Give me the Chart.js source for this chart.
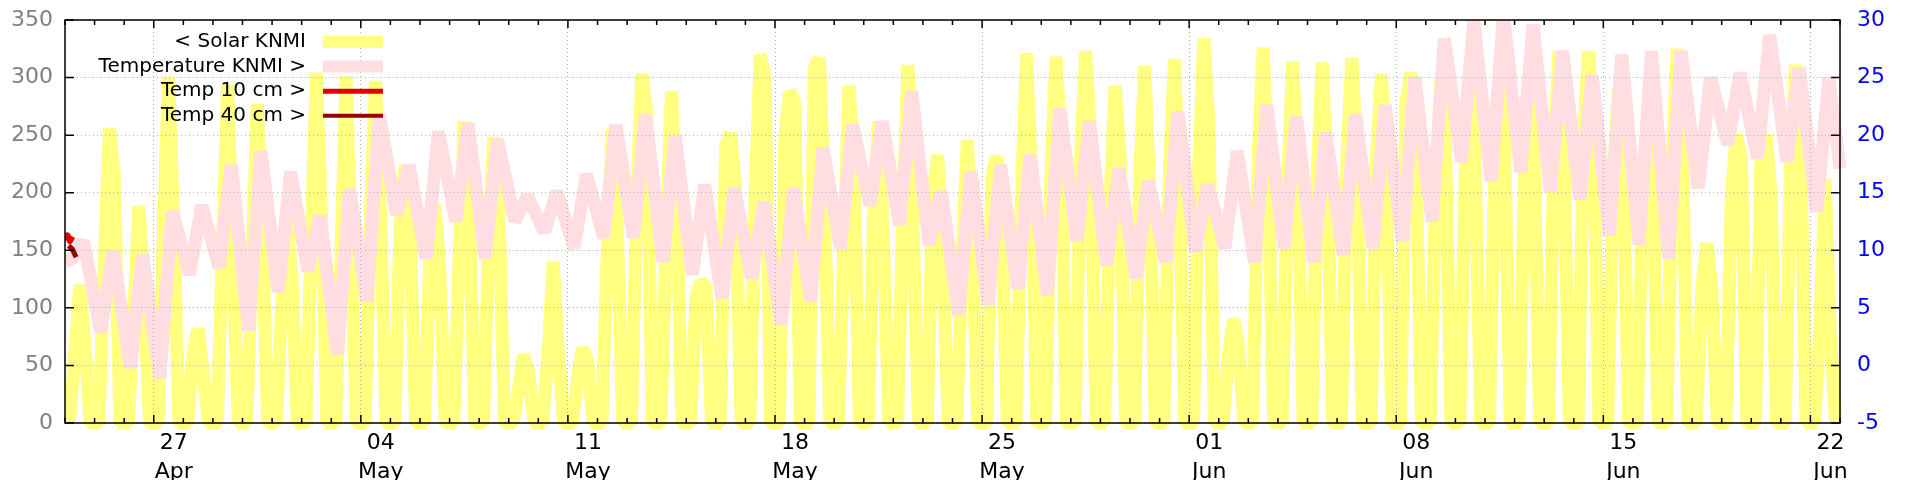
<!DOCTYPE html>
<html>
<head>
<meta charset="utf-8">
<script src="https://cdn.jsdelivr.net/npm/chart.js@4.4.1/dist/chart.umd.min.js"></script>
<style>
  html, body { margin: 0; padding: 0; background: #fff; }
  canvas { display: block; }
</style>
</head>
<body>
<canvas id="chart" width="1920" height="480"></canvas>
<script>
// x = days since 24 Apr 00:00
const dayCount = 60;

// weekly tick labels
const weekDays = [3, 10, 17, 24, 31, 38, 45, 52, 59];
const weekDayLabels = ['27', '04', '11', '18', '25', '01', '08', '15', '22'];
const weekMonths = ['Apr', 'May', 'May', 'May', 'May', 'Jun', 'Jun', 'Jun', 'Jun'];

// solar KNMI (W/m2), one value per day at each hour below; night is 0
const solarHours = [3.5, 8, 12, 16, 20.5];
const solarNight = 0;
const solar8h = [
  60, 140, 100, 170, 62, 160, 150, 110, 170, 150,
  190, 178, 140, 150, 170, 30, 60, 40, 150, 200,
  170, 110, 240, 200, 250, 308, 160, 180, 200, 200,
  150, 215, 200, 220, 230, 200, 220, 220, 230, 60,
  230, 210, 220, 230, 230, 280, 200, 220, 230, 210,
  240, 250, 210, 200, 230, 120, 200, 240, 230, 90,
];
const solar12h = [
  120, 256, 188, 300, 82, 294, 277, 180, 304, 301,
  297, 224, 190, 262, 248, 59, 140, 65, 255, 303,
  288, 123, 252, 320, 288, 317, 293, 262, 311, 233,
  246, 232, 321, 318, 323, 293, 310, 316, 334, 90,
  326, 314, 313, 317, 303, 304, 300, 305, 310, 300,
  323, 323, 290, 270, 325, 156, 250, 250, 311, 212,
];
const solar16h = [
  70, 215, 120, 180, 45, 150, 170, 130, 180, 160,
  180, 170, 135, 180, 187, 45, 67, 55, 170, 270,
  200, 118, 200, 300, 279, 200, 230, 160, 170, 150,
  160, 170, 220, 240, 250, 230, 200, 210, 260, 70,
  220, 220, 210, 230, 210, 230, 240, 230, 240, 220,
  230, 260, 240, 220, 250, 117, 230, 200, 240, 80,
];

// temperature KNMI (C): daily low around 05:00, daily high around 15:00
const tempStart = 9.0;
const tempEnd = 17.1;
const tempMin = [
  9.2, 2.9, -0.2, -1.1, 7.9, 8.5, 3.0, 6.4, 8.2, 1.0,
  5.6, 13.1, 9.3, 12.5, 9.3, 12.5, 11.6, 10.2, 11.1, 11.1,
  9.0, 7.9, 5.8, 7.6, 3.5, 5.6, 10.2, 13.9, 12.2, 10.5,
  4.4, 5.3, 6.7, 6.1, 10.8, 8.7, 7.6, 9.0, 9.9, 10.2,
  9.0, 10.2, 9.0, 9.6, 10.2, 10.8, 12.5, 17.7, 16.0, 16.8,
  15.1, 14.4, 11.3, 10.5, 9.3, 15.4, 19.2, 18.0, 17.7, 13.4,
];
const tempMax = [
  10.8, 9.9, 9.6, 13.4, 13.9, 17.4, 18.6, 16.8, 13.0, 15.3,
  21.8, 17.4, 20.3, 21.0, 19.6, 14.7, 15.1, 16.6, 20.9, 21.8,
  19.9, 15.7, 15.4, 14.2, 15.4, 18.9, 20.9, 21.2, 23.8, 15.1,
  16.8, 17.4, 18.3, 22.3, 21.2, 17.1, 16.0, 22.0, 15.7, 18.6,
  22.6, 21.6, 20.2, 21.8, 22.6, 25.0, 28.4, 29.9, 30.5, 29.6,
  27.3, 25.2, 27.0, 27.3, 27.3, 25.0, 25.4, 28.7, 25.8, 25.0,
];

// soil temperatures, only a few readings at the start [hour, C]
const temp10cm = [[0, 10.9], [2, 11.3], [4, 10.8], [6, 11.2]];
const temp40cm = [[3, 10.4], [6, 10.1], [9, 9.4]];

const FONT = 'DejaVu Sans';
const gridColor = '#b0b0b0';
const solarColor = '#ffff80';
const tempColor = '#ffdde1';

const solarPoints = [];
for (let d = 0; d < dayCount; d++) {
  const vals = [solarNight, solar8h[d], solar12h[d], solar16h[d], solarNight];
  solarHours.forEach((h, i) => solarPoints.push({ x: d + h / 24, y: vals[i] }));
}

const tempPoints = [{ x: 0, y: tempStart }];
for (let d = 0; d < dayCount; d++) {
  tempPoints.push({ x: d + 5 / 24, y: tempMin[d] });
  tempPoints.push({ x: d + 15 / 24, y: tempMax[d] });
}
tempPoints.push({ x: dayCount, y: tempEnd });

const toPts = (arr) => arr.map(([h, v]) => ({ x: h / 24, y: v }));

const legendRows = [
  { label: '< Solar KNMI', color: solarColor, width: 12 },
  { label: 'Temperature KNMI >', color: tempColor, width: 12 },
  { label: 'Temp 10 cm >', color: '#e00000', width: 5 },
  { label: 'Temp 40 cm >', color: '#990000', width: 4 },
];

// frame, inward ticks and the key, gnuplot style
const framePlugin = {
  id: 'frame',
  afterDraw(chart) {
    const { ctx, chartArea: a, scales } = chart;
    ctx.save();
    ctx.setTransform(1, 0, 0, 1, 0, 0);
    ctx.strokeStyle = '#000';
    ctx.lineWidth = 1.5;
    ctx.strokeRect(a.left, a.top, a.right - a.left, a.bottom - a.top);
    ctx.beginPath();
    scales.x.ticks.forEach((t) => {
      const x = scales.x.getPixelForValue(t.value);
      const len = weekDays.includes(Math.round(t.value)) ? 8 : 5;
      ctx.moveTo(x, a.bottom);
      ctx.lineTo(x, a.bottom - len);
      ctx.moveTo(x, a.top);
      ctx.lineTo(x, a.top + len);
    });
    scales.y.ticks.forEach((t) => {
      const y = scales.y.getPixelForValue(t.value);
      ctx.moveTo(a.left, y);
      ctx.lineTo(a.left + 9, y);
    });
    scales.y2.ticks.forEach((t) => {
      const y = scales.y2.getPixelForValue(t.value);
      ctx.moveTo(a.right, y);
      ctx.lineTo(a.right - 9, y);
    });
    ctx.stroke();

    // key
    ctx.font = `20px "${FONT}"`;
    ctx.textAlign = 'right';
    ctx.textBaseline = 'middle';
    legendRows.forEach((row, i) => {
      const y = a.top + 22 + i * 24.6;
      ctx.fillStyle = '#000';
      ctx.fillText(row.label, a.left + 241, y);
      ctx.strokeStyle = row.color;
      ctx.lineWidth = row.width;
      ctx.beginPath();
      ctx.moveTo(a.left + 258, y);
      ctx.lineTo(a.left + 318, y);
      ctx.stroke();
    });
    ctx.restore();
  },
};

const lineBase = {
  pointRadius: 0,
  fill: false,
  tension: 0,
  borderJoinStyle: 'bevel',
  borderCapStyle: 'butt',
  clip: { left: 0, top: 0, right: 12, bottom: 12 },
};

const noPad = (s) => {
  s.paddingTop = 0;
  s.paddingBottom = 0;
  s.paddingLeft = 0;
  s.paddingRight = 0;
};

new Chart(document.getElementById('chart').getContext('2d'), {
  type: 'line',
  data: {
    datasets: [
      { ...lineBase, label: '< Solar KNMI', data: solarPoints, yAxisID: 'y',
        borderColor: solarColor, borderWidth: 13, order: 4 },
      { ...lineBase, label: 'Temperature KNMI >', data: tempPoints, yAxisID: 'y2',
        borderColor: tempColor, borderWidth: 13, order: 3 },
      { ...lineBase, label: 'Temp 40 cm >', data: toPts(temp40cm), yAxisID: 'y2',
        borderColor: '#990000', borderWidth: 5, borderJoinStyle: 'round', order: 2 },
      { ...lineBase, label: 'Temp 10 cm >', data: toPts(temp10cm), yAxisID: 'y2',
        borderColor: '#dd0000', borderWidth: 6, borderJoinStyle: 'round', order: 1 },
    ],
  },
  options: {
    responsive: false,
    animation: false,
    devicePixelRatio: 1,
    layout: { padding: { top: 20, left: 0, right: 0, bottom: 0 } },
    plugins: { legend: { display: false }, tooltip: { enabled: false } },
    scales: {
      x: {
        type: 'linear',
        min: 0,
        max: dayCount,
        afterFit: (s) => { s.height = 57; noPad(s); },
        grid: {
          color: (c) => (c.tick && weekDays.includes(Math.round(c.tick.value)) ? gridColor : 'rgba(0,0,0,0)'),
          drawTicks: false,
          lineWidth: 1,
          z: 1,
        },
        border: { display: false, dash: [1, 3] },
        ticks: {
          stepSize: 1,
          autoSkip: false,
          maxRotation: 0,
          minRotation: 0,
          padding: 6,
          labelOffset: 20,
          color: '#000',
          font: { family: FONT, size: 22, lineHeight: 1.32 },
          callback: (v) => {
            const i = weekDays.indexOf(Math.round(v));
            return i < 0 ? '' : [weekDayLabels[i], weekMonths[i]];
          },
        },
      },
      y: {
        position: 'left',
        min: 0,
        max: 350,
        afterFit: (s) => { s.width = 65; noPad(s); },
        grid: { color: gridColor, drawTicks: false, lineWidth: 1, z: 1 },
        border: { display: false, dash: [1, 3] },
        ticks: { stepSize: 50, padding: 12, color: '#808080', font: { family: FONT, size: 22 } },
      },
      y2: {
        position: 'right',
        min: -5,
        max: 30,
        afterFit: (s) => { s.width = 80; noPad(s); },
        grid: { drawOnChartArea: false, drawTicks: false },
        border: { display: false },
        ticks: { stepSize: 5, padding: 17, color: '#0000ff', font: { family: FONT, size: 22 } },
      },
    },
  },
  plugins: [framePlugin],
});
</script>
</body>
</html>
